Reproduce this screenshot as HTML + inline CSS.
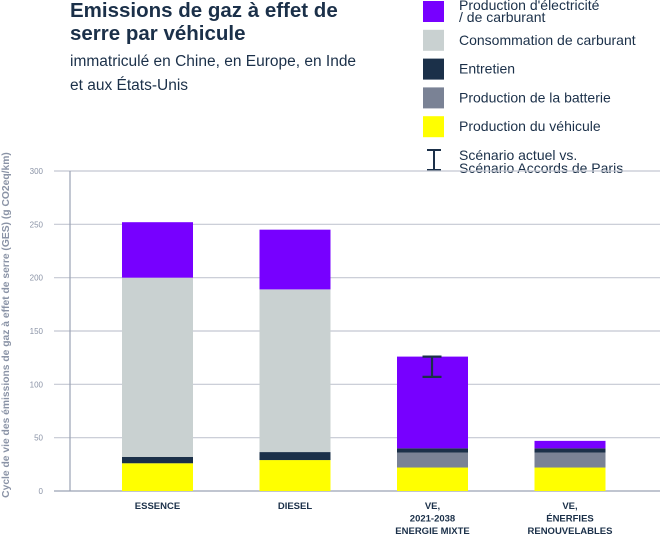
<!DOCTYPE html>
<html><head><meta charset="utf-8"><style>
body{margin:0;background:#fff;}
svg{display:block;font-family:"Liberation Sans",sans-serif;}
</style></head><body>
<svg id="chart" width="660" height="535" viewBox="0 0 660 535">
<text x="70" y="17" font-size="20.5" font-weight="bold" fill="#1b3049">Emissions de gaz à effet de</text>
<text x="70" y="40" font-size="20.5" font-weight="bold" fill="#1b3049">serre par véhicule</text>
<text x="70" y="66" font-size="15.5" fill="#1b3049">immatriculé en Chine, en Europe, en Inde</text>
<text x="70" y="90" font-size="15.5" fill="#1b3049">et aux États-Unis</text>
<g id="legend"></g>
<g id="grid"></g>
<g id="bars"></g>
<g id="xlabels"></g>
<text transform="translate(9,325) rotate(-90)" text-anchor="middle" font-size="10.3" font-weight="bold" fill="#8a93a6">Cycle de vie des émissions de gaz à effet de serre (GES) (g CO2eq/km)</text>
</svg>
<script>
const categories = [["ESSENCE"],["DIESEL"],["VE,","2021-2038","ENERGIE MIXTE"],["VE,","ÉNERFIES","RENOUVELABLES"]];
const vehicleProd = [26, 29, 22, 22];
const batteryProd = [0, 0, 14, 14];
const maintenance = [6, 7.5, 4, 4];
const fuelUse = [168, 152.5, 0, 0];
const energyProd = [52, 56, 86, 7];
const errLow = [null, null, 107, null];
const errHigh = [null, null, 126, null];
const yTicks = [0, 50, 100, 150, 200, 250, 300];
const legendLabels = [["Production d'électricité","/ de carburant"],["Consommation de carburant"],["Entretien"],["Production de la batterie"],["Production du véhicule"]];

const series = [vehicleProd, batteryProd, maintenance, fuelUse, energyProd];
const colors = ["#ffff00","#7a8295","#1b3049","#c9d1d1","#7700ff"];
const names = ["vehicle-production","battery-production","maintenance","fuel-consumption","energy-production"];
const NS = "http://www.w3.org/2000/svg";
const y0 = 491, yTop = 171, yMax = 300;
const y = v => y0 - v * (y0 - yTop) / yMax;
const x = i => 157.5 + i * 137.5;
const bw = 71;
function mk(tag, attrs, parent){const e=document.createElementNS(NS,tag);for(const k in attrs)e.setAttribute(k,attrs[k]);parent.appendChild(e);return e;}

const grid = document.getElementById("grid");
yTicks.forEach(t=>{
  const l = mk("line",{x1:54,x2:660,y1:y(t),y2:y(t),stroke:t===0?"#9aa2b4":"#c4c8d2","stroke-width":1.2},grid);
  
  
  const tx = mk("text",{x:43,y:y(t)+3,"text-anchor":"end","font-size":8,fill:"#8a93a6"},grid);
  tx.textContent=t;
  
  
});
const ax = mk("line",{x1:70,x2:70,y1:y(300),y2:y0,stroke:"#9aa2b4","stroke-width":1.2},grid);



const bars = document.getElementById("bars");
categories.forEach((c,i)=>{
  let acc=0;
  series.forEach((s,k)=>{
    const v=s[i]; if(!v) return;
    const r = mk("rect",{x:x(i)-bw/2,y:y(acc+v),width:bw,height:y(acc)-y(acc+v),fill:colors[k]},bars);
    
    
    acc+=v;
  });
  if(errLow[i]!=null){
    const g = mk("g",{stroke:"#1b3049","stroke-width":2.2},bars);
    
    
    mk("line",{x1:x(i)-0.5,x2:x(i)-0.5,y1:y(errHigh[i]),y2:y(errLow[i])},g);
    mk("line",{x1:x(i)-10,x2:x(i)+9,y1:y(errHigh[i]),y2:y(errHigh[i])},g);
    mk("line",{x1:x(i)-10,x2:x(i)+9,y1:y(errLow[i]),y2:y(errLow[i])},g);
  }
  const xl = document.getElementById("xlabels");
  c.forEach((line,j)=>{
    const t = mk("text",{x:x(i),y:509+j*12.5,"text-anchor":"middle","font-size":9.5,"font-weight":"bold",fill:"#1b3049"},xl);
    t.textContent=line;
    
    
  });
});

const leg = document.getElementById("legend");
const legColors = ["#7700ff","#c9d1d1","#1b3049","#7a8295","#ffff00"];
legendLabels.forEach((lab,i)=>{
  const top = 1 + i*28.8;
  const r = mk("rect",{x:423,y:top,width:21,height:21,fill:legColors[i]},leg);
  
  
  lab.forEach((line,j)=>{
    const t = mk("text",{x:459,y:(lab.length>1? top+9+j*12 : top+15),"font-size":14,fill:"#1b3049"},leg);
    t.textContent=line;
    
    
  });
});
const eg = mk("g",{stroke:"#1b3049","stroke-width":2},leg);


mk("line",{x1:434,x2:434,y1:150,y2:170},eg);
mk("line",{x1:427,x2:441,y1:150,y2:150},eg);
mk("line",{x1:427,x2:441,y1:170,y2:170},eg);
[["Scénario actuel vs.",160],["Scénario Accords de Paris",173]].forEach(([s,yy])=>{
  const t = mk("text",{x:459,y:yy,"font-size":14,fill:"#1b3049"},leg);
  t.textContent=s;
  
  
});
</script>
</body></html>
